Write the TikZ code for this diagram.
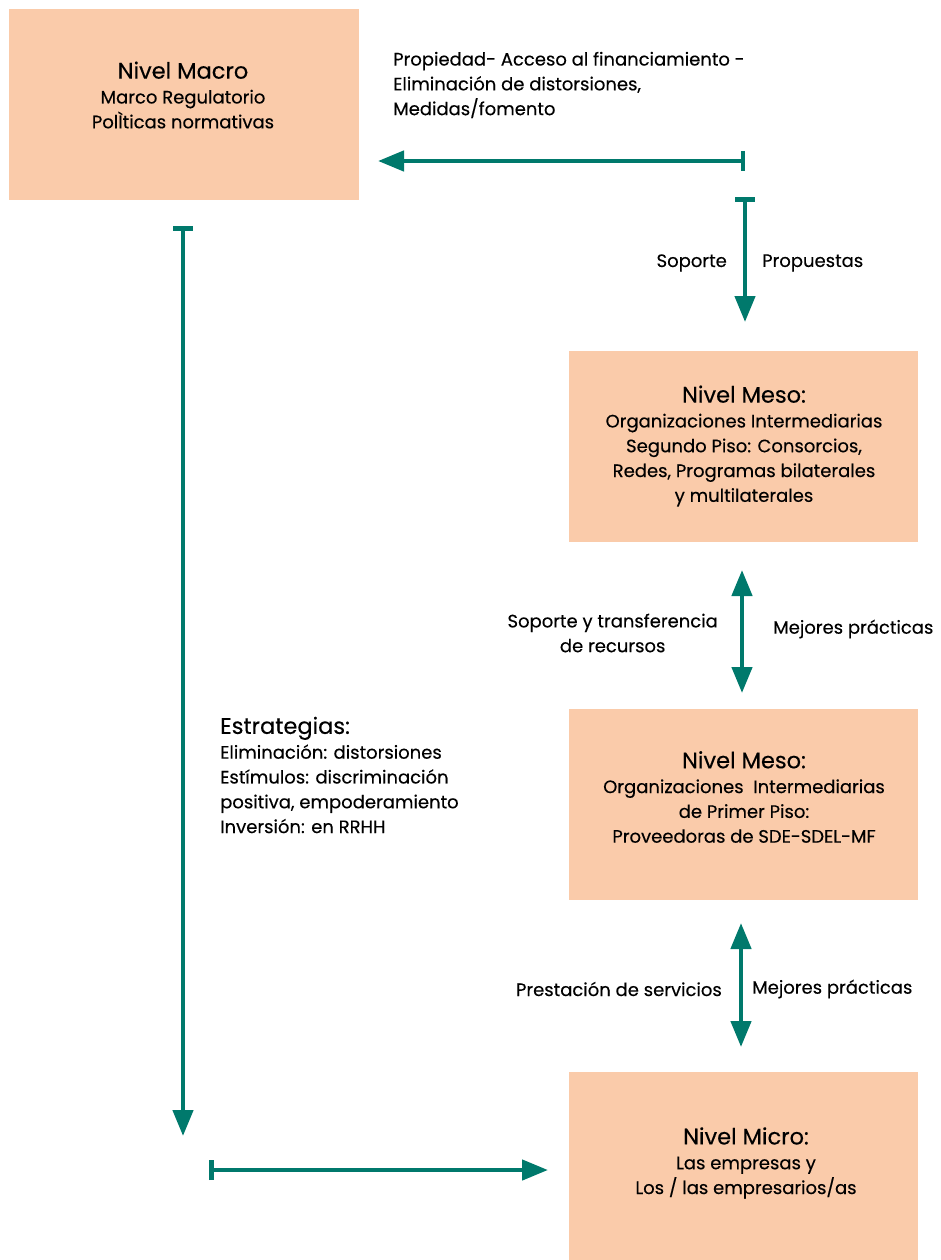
\documentclass[tikz,border=0pt]{standalone}
\usepackage{fontspec}
\setmainfont{Poppins}[FakeBold=0.3,AutoFakeBold=0.3]
\usetikzlibrary{arrows.meta}
\definecolor{peach}{HTML}{FACBAA}
\definecolor{teal}{HTML}{00796C}
\newcommand\lvltitle[1]{{\fontsize{22.5}{25}\selectfont #1}}
\begin{document}
\begin{tikzpicture}[x=1pt,y=-1pt,
  level/.style={fill=peach,draw=none,inner sep=0pt},
  txt/.style={inner sep=0pt,font=\fontsize{18}{24.8}\selectfont},
  conn/.style={draw=teal,line width=4.5pt},
  barway/.style={conn,{Bar[width=20pt]}-{Triangle[width=20pt,length=26pt]}},
  twoway/.style={conn,{Triangle[width=20pt,length=26pt]}-{Triangle[width=20pt,length=26pt]}}]
\useasboundingbox (0,0) rectangle (940,1260);

% level boxes
\node[level,minimum width=350pt,minimum height=191pt,anchor=north west] (macro) at (9,9) {};
\node[level,minimum width=349pt,minimum height=191pt,anchor=north west] (meso1) at (569,351) {};
\node[level,minimum width=349pt,minimum height=191pt,anchor=north west] (meso2) at (569,709) {};
\node[level,minimum width=349pt,minimum height=188pt,anchor=north west] (micro) at (569,1072) {};

% box texts
\node[txt,align=center] (macrot) at (183,95) {\lvltitle{Nivel Macro}\\Marco Regulatorio\\PolÌticas normativas};
\node[txt,align=center] (meso1t) at (744,446) {\lvltitle{Nivel Meso:}\\Organizaciones Intermediarias\\Segundo Piso: Consorcios,\\Redes, Programas bilaterales\\y multilaterales};
\node[txt,align=center] (meso2t) at (744,797) {\lvltitle{Nivel Meso:}\\Organizaciones\ \ Intermediarias\\de Primer Piso:\\Proveedoras de SDE-SDEL-MF};
\node[txt,align=center] (microt) at (746,1163) {\lvltitle{Nivel Micro:}\\Las empresas y\\Los / las empresarios/as};

% connector labels
\node[txt,align=left,anchor=west] (prop) at (393,85) {Propiedad- Acceso al financiamiento -\\Eliminación de distorsiones,\\Medidas/fomento};
\node[txt,anchor=east] (sop) at (727,263) {Soporte};
\node[txt,anchor=west] (propu) at (762,263) {Propuestas};
\node[txt,align=center,anchor=east] (soptr) at (718,633) {Soporte y transferencia\\de recursos};
\node[txt,anchor=west] (mej1) at (773,629) {Mejores prácticas};
\node[txt,anchor=east] (prest) at (722,989) {Prestación de servicios};
\node[txt,anchor=west] (mej2) at (752,989) {Mejores prácticas};
\node[txt,align=left,anchor=west] (estr) at (220,775) {\lvltitle{Estrategias:}\\Eliminación: distorsiones\\Estímulos: discriminación\\positiva, empoderamiento\\Inversión: en RRHH};

% connector end points
\coordinate (a1s) at (745,161);
\coordinate (a1e) at (378,161);
\coordinate (a2s) at (745,197);
\coordinate (a2e) at (745,322);
\coordinate (a3s) at (742,570);
\coordinate (a3e) at (742,693);
\coordinate (a4s) at (741,923);
\coordinate (a4e) at (741,1047);
\coordinate (a5s) at (183,226);
\coordinate (a5e) at (183,1136);
\coordinate (a6s) at (209,1170);
\coordinate (a6e) at (548,1170);

% connectors
\draw[barway] (a1s) -- (a1e);
\draw[barway] (a2s) -- (a2e);
\draw[twoway] (a3s) -- (a3e);
\draw[twoway] (a4s) -- (a4e);
\draw[barway] (a5s) -- (a5e);
\draw[barway] (a6s) -- (a6e);
\end{tikzpicture}
\end{document}
